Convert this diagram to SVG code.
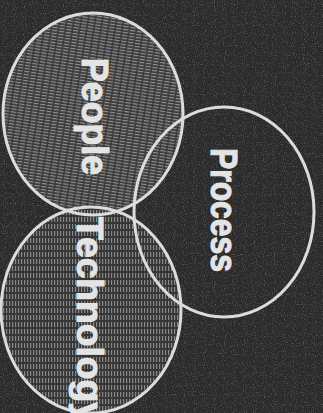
<svg xmlns="http://www.w3.org/2000/svg" width="323" height="413" viewBox="0 0 323 413">
  <defs>
    <pattern id="stripesH" width="7" height="3" patternUnits="userSpaceOnUse" patternTransform="rotate(9)">
      <rect width="7" height="3" fill="#393939"/>
      <rect x="0" y="0" width="5.5" height="1.2" fill="#929292"/>
    </pattern>
    <pattern id="dashesV" width="3" height="7" patternUnits="userSpaceOnUse">
      <rect width="3" height="7" fill="#363636"/>
      <rect x="0" y="0" width="1.2" height="5" fill="#888888"/>
    </pattern>
    <filter id="noise" x="0" y="0" width="100%" height="100%">
      <feTurbulence type="fractalNoise" baseFrequency="0.9" numOctaves="1" seed="4"/>
      <feColorMatrix type="matrix" values="0 0 0 0 0.75  0 0 0 0 0.75  0 0 0 0 0.75  0 0 0 2 -1.05"/>
    </filter>
    <style>
      .ring { fill: none; stroke: #dcdcdc; stroke-width: 3; }
      .label { font-family: "Liberation Sans", Arial, sans-serif; font-weight: bold; font-size: 37px; fill: #e4e4e4; stroke: #e4e4e4; stroke-width: 1.1; }
    </style>
  </defs>

  <rect width="323" height="413" fill="#2b2b2b"/>
  <rect width="323" height="413" filter="url(#noise)" opacity="0.5"/>

  <g id="fills">
    <ellipse cx="93" cy="114" rx="90" ry="101" fill="url(#stripesH)"/>
    <ellipse cx="91" cy="310" rx="90" ry="103" fill="url(#dashesV)"/>
  </g>

  <g id="people">
    <ellipse class="ring" cx="93" cy="114" rx="90" ry="101"/>
    <text class="label" transform="translate(82,58) rotate(90)" textLength="117" lengthAdjust="spacingAndGlyphs">People</text>
  </g>

  <g id="process">
    <ellipse class="ring" cx="224" cy="212" rx="90" ry="105"/>
    <text class="label" transform="translate(211,148) rotate(90)" textLength="124" lengthAdjust="spacingAndGlyphs">Process</text>
  </g>

  <g id="technology">
    <ellipse class="ring" cx="91" cy="310" rx="90" ry="103"/>
    <text class="label" transform="translate(77,217) rotate(90)" textLength="206" lengthAdjust="spacingAndGlyphs">Technology</text>
  </g>
</svg>
